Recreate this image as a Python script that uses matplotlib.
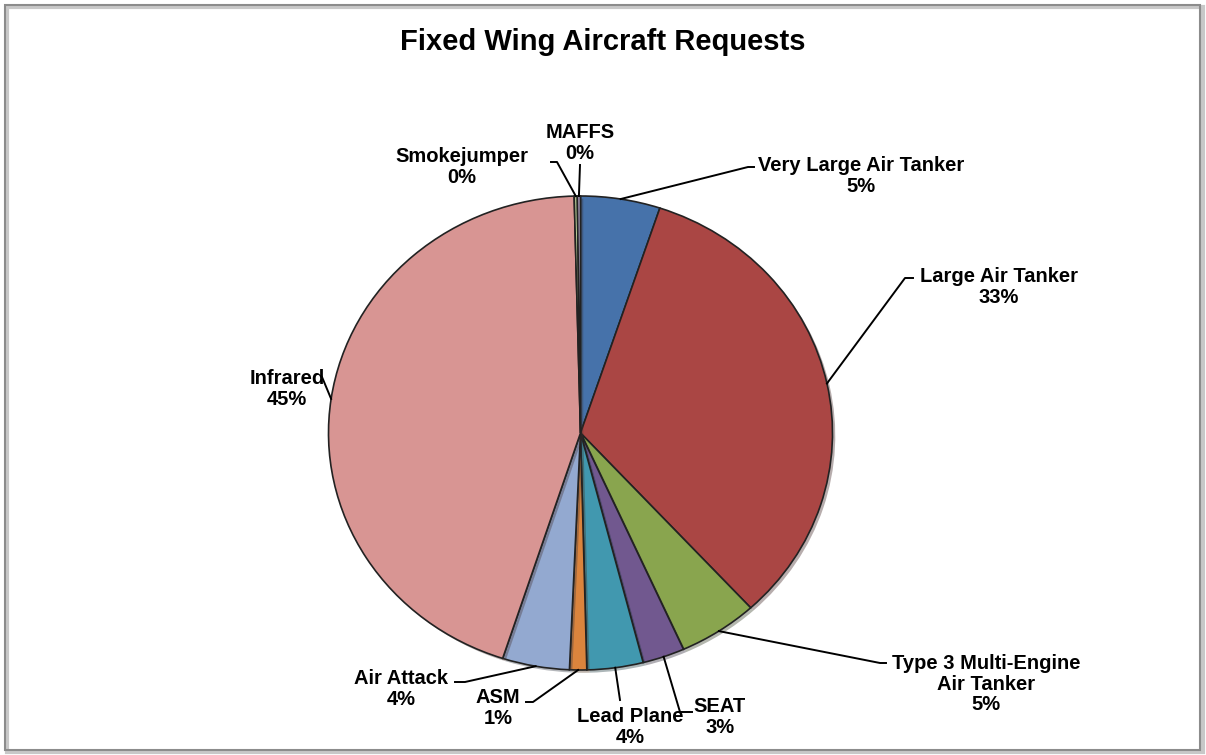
import numpy as np
import matplotlib
matplotlib.use("Agg")
import matplotlib.pyplot as plt
from matplotlib.patches import Rectangle
from matplotlib.transforms import Affine2D
import matplotlib.patheffects as pe

# Data (share of requests, %), clockwise from 12 o'clock
categories = ["Very Large Air Tanker", "Large Air Tanker", "Type 3 Multi-Engine\nAir Tanker",
              "SEAT", "Lead Plane", "ASM", "Air Attack", "Infrared", "Smokejumper", "MAFFS"]
values = [5.1, 33.1, 5.1, 2.7, 3.6, 1.1, 4.3, 44.6, 0.2, 0.2]
colors = ["#4672AA", "#AA4644", "#89A54E", "#71588F", "#4198AF", "#DB843D",
          "#93A9D0", "#D89593", "#B9CD96", "#A99BBD"]

# label text centres (pixels from top-left) and leader elbow points
label_pos = [(861, 176), (999, 287), (986, 684), (720, 717), (630, 727),
             (498, 708), (401, 689), (287, 389), (462, 167), (580, 143)]
elbows = [(748, 167), (905, 278), (880, 663), (680, 712), (620, 700),
          (533, 702), (465, 682), (322, 377), (557, 162), (580, 165)]
ticks = [(754, 167), (913, 278), (886, 663), (692, 712), (620, 700),
         (526, 702), (455, 682), (322, 377), (551, 162), (580, 165)]

W, H = 1206, 755
plt.rcParams['font.family'] = ['Liberation Sans', 'DejaVu Sans']
fig = plt.figure(figsize=(W / 100, H / 100), dpi=100)
ax = fig.add_axes([0, 0, 1, 1])

cx, cy = 580.5, H - 433
rx, ry = 252, 237

wedges, _ = ax.pie(values, colors=colors, startangle=90, counterclock=False,
                   radius=rx, center=(cx, cy),
                   wedgeprops=dict(edgecolor="#222222", linewidth=1.2))
squash = Affine2D().translate(-cx, -cy).scale(1, ry / rx).translate(cx, cy)
for w in wedges:
    w.set_transform(squash + ax.transData)
    w.set_path_effects([pe.SimplePatchShadow(offset=(2, -2), alpha=0.35), pe.Normal()])

ax.set_aspect('auto')
ax.set_xlim(0, W)
ax.set_ylim(0, H)
ax.axis('off')

total = sum(values)
for w, lab, v, (tx, ty), (ex, ey), (kx, ky) in zip(wedges, categories, values,
                                                   label_pos, elbows, ticks):
    ang = np.deg2rad((w.theta1 + w.theta2) / 2)
    px = cx + rx * np.cos(ang)
    py = cy + ry * np.sin(ang)
    ax.plot([px, ex, kx], [py, H - ey, H - ky], color="black", lw=1.4)
    ax.text(tx, H - ty, f"{lab}\n{v / total * 100:.0f}%", ha="center", va="center",
            fontsize=14.5, fontweight="bold", linespacing=1.1)

fig.text(0.5, 1 - 42 / H, "Fixed Wing Aircraft Requests", ha="center", va="center",
         fontsize=21, fontweight="bold")

# chart frame with a soft shadow
fig.patches.append(Rectangle((7 / W, 3 / H), 1196 / W, 745 / H, transform=fig.transFigure,
                             fill=False, edgecolor="#c8c8c8", lw=3))
fig.patches.append(Rectangle((5 / W, 5 / H), 1195 / W, 745 / H, transform=fig.transFigure,
                             fill=False, edgecolor="#8c8c8c", lw=1.5))

fig.savefig("out.png", dpi=100)
